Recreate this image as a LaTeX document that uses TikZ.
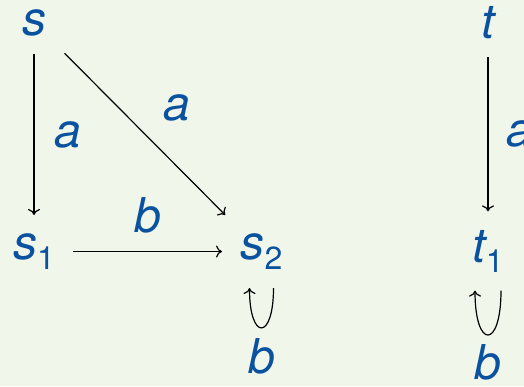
\documentclass[tikz,border=0pt]{standalone}
\usepackage{fontspec}
\setmainfont{TeX Gyre Heros}
\usepackage{xcolor}
\usepackage{tikz}
\usetikzlibrary{arrows.meta}

\definecolor{textblue}{RGB}{10,82,160}
\definecolor{bggreen}{RGB}{241,246,235}
\newcommand{\idx}[1]{\raisebox{-5pt}{\fontsize{16}{16}\selectfont\upshape #1}}

\begin{document}
\begin{tikzpicture}[
    x=0.5pt, y=0.5pt,
    mystate/.style={inner sep=9pt, text=textblue, font=\fontsize{24}{28}\selectfont\itshape},
    mylabel/.style={inner sep=9pt, text=textblue, font=\fontsize{24}{28}\selectfont\itshape},
    >={To[length=3pt,width=6pt]},
    line width=0.6pt
    ]

    \fill[bggreen] (0,0) rectangle (524,-386);
    \useasboundingbox (0,0) rectangle (524,-386);

    \node[mystate] (s) at (34,-22.5) {s};
    \node[mystate] (s1) at (34,-251.5) {s\idx{1}};
    \node[mystate] (s2) at (261.5,-251.5) {s\idx{2}};
    \node[mystate] (t) at (488,-22.5) {t};
    \node[mystate] (t1) at (488,-251) {t\idx{1}};

    \draw[->] (s) -- node[mylabel, right, xshift=1pt] {a} (s1);
    \draw[->] (s) -- node[mylabel, above right, yshift=-3pt] {a} (s2);
    \draw[->] (s1) -- node[mylabel, above] {b} (s2);
    \draw[->] ([xshift=6pt]s2.south) .. controls +(0,-53) and +(0,-53) .. ([xshift=-6pt]s2.south) node[mylabel, below, pos=0.5, yshift=4pt] {b};

    \draw[->] (t) -- node[mylabel, right] {a} (t1);
    \draw[->] ([xshift=6.5pt]t1.south) .. controls +(0,-59) and +(0,-59) .. ([xshift=-6.5pt]t1.south) node[mylabel, below, pos=0.5, yshift=4.5pt] {b};

\end{tikzpicture}
\end{document}
